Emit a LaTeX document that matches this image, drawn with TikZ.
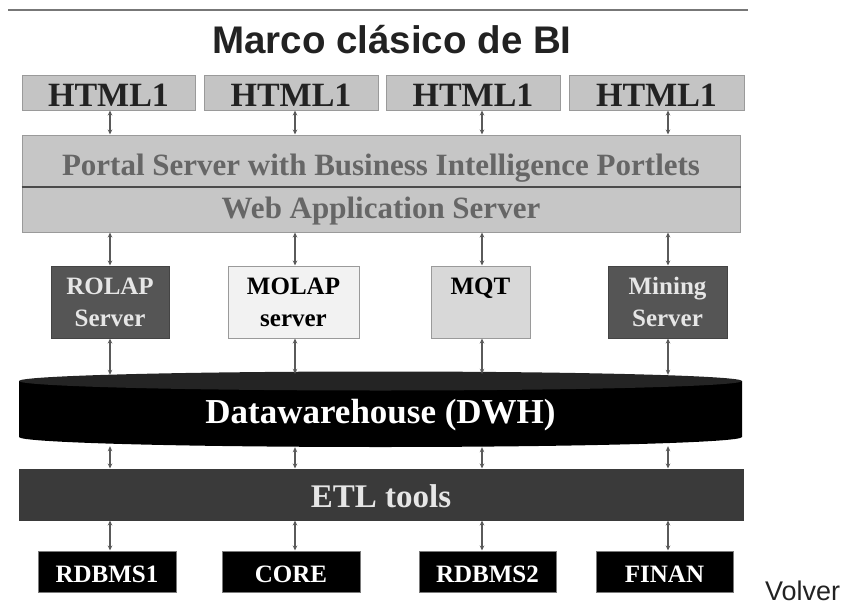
\documentclass[tikz,border=0pt]{standalone}
\usepackage{fontspec}
\setmainfont{Liberation Serif}
\newfontfamily\headfont{Liberation Sans}
\usetikzlibrary{arrows.meta,calc}

\definecolor{htmlfill}{HTML}{C4C4C4}
\definecolor{boxline}{HTML}{9A9A9A}
\definecolor{htmltext}{HTML}{222222}
\definecolor{portalfill}{HTML}{C6C6C6}
\definecolor{portaltext}{HTML}{666666}
\definecolor{divider}{HTML}{4A4A4A}
\definecolor{darkfill}{HTML}{555555}
\definecolor{lighttext}{HTML}{E6E6E6}
\definecolor{molapfill}{HTML}{F2F2F2}
\definecolor{mqtfill}{HTML}{D8D8D8}
\definecolor{dwhtop}{HTML}{242424}
\definecolor{etlfill}{HTML}{3A3A3A}
\definecolor{srcline}{HTML}{7A7A7A}
\definecolor{arrowgray}{HTML}{5A5A5A}
\definecolor{rulegray}{HTML}{777777}

\tikzset{
  htmlbox/.style={draw=boxline, fill=htmlfill, line width=1pt, inner sep=0pt,
    minimum height=35pt, text=htmltext, text height=27pt, text depth=0pt,
    font=\fontsize{34}{34}\selectfont\bfseries},
  layerbox/.style={draw=boxline, fill=portalfill, line width=1pt, inner sep=0pt,
    minimum width=718pt, text=portaltext, text depth=0pt,
    font=\fontsize{31}{31}\selectfont\bfseries},
  srvbox/.style={line width=1pt, inner sep=0pt, minimum height=72pt, align=center,
    font=\fontsize{25}{32}\selectfont\bfseries},
  darksrv/.style={srvbox, draw=darkfill!80!black, fill=darkfill, text=lighttext},
  srcbox/.style={draw=srcline, fill=black, line width=1pt, inner sep=0pt,
    minimum height=41pt, text=white, text height=21pt, text depth=0pt,
    font=\fontsize{25}{25}\selectfont\bfseries},
  biarrow/.style={{Stealth[length=5pt,width=4.5pt]}-{Stealth[length=5pt,width=4.5pt]},
    draw=arrowgray, line width=1.2pt},
}

\begin{document}
\begin{tikzpicture}[x=1pt,y=-1pt]
\useasboundingbox (0,0) rectangle (849,605);

% heading rule and title
\coordinate (ruleL) at (8,10);
\coordinate (ruleR) at (748,10);
\draw[rulegray, line width=1.5pt] (ruleL) -- (ruleR);
\node[anchor=base, inner sep=0pt, text=htmltext,
      font=\headfont\fontsize{38.5}{38.5}\selectfont\bfseries]
  (title) at (392,53) {Marco clásico de BI};

% connector columns
\coordinate (c1) at (110,0);
\coordinate (c2) at (295,0);
\coordinate (c3) at (482,0);
\coordinate (c4) at (668,0);

% presentation layer
\node[htmlbox, minimum width=173pt] (h1) at (108.5,92.5) {HTML1};
\node[htmlbox, minimum width=174pt] (h2) at (291,92.5) {HTML1};
\node[htmlbox, minimum width=174pt] (h3) at (473,92.5) {HTML1};
\node[htmlbox, minimum width=175pt] (h4) at (656.5,92.5) {HTML1};

\node[layerbox, minimum height=51pt, text height=29pt] (portal) at (381,160.5)
  {Portal Server with Business Intelligence Portlets};
\node[layerbox, minimum height=46pt, text height=18pt] (was) at (381,209)
  {Web Application Server};
\draw[divider, line width=2pt] (portal.south west) -- (portal.south east);

% analysis servers
\node[darksrv, minimum width=118pt] (rolap) at (110,302) {ROLAP\\Server};
\node[srvbox, draw=boxline, fill=molapfill, text=black, minimum width=131pt]
  (molap) at (293.5,302) {MOLAP\\server};
\node[srvbox, draw=boxline, fill=mqtfill, text=black, minimum width=99pt]
  (mqt) at (480.5,302) {MQT\\\mbox{}};
\node[darksrv, minimum width=119pt] (mining) at (667.5,302) {Mining\\Server};

% data warehouse cylinder
\fill[black] (19,381) -- (19,437)
  arc[start angle=180, end angle=0, x radius=361.5, y radius=10]
  -- (742,381) -- cycle;
\fill[dwhtop] (380.5,381) ellipse[x radius=361.5, y radius=9.5];
\node[inner sep=0pt, minimum width=723pt, minimum height=75pt, text=white,
      text height=25pt, text depth=0pt,
      font=\fontsize{35}{35}\selectfont\bfseries]
  (dwh) at (380.5,410.5) {Datawarehouse (DWH)};

% ETL layer
\node[draw=etlfill, fill=etlfill, line width=1pt, inner sep=0pt,
      minimum width=724pt, minimum height=51pt, text=lighttext,
      text height=25pt, text depth=0pt,
      font=\fontsize{33}{33}\selectfont\bfseries]
  (etl) at (381,494.5) {ETL tools};

% sources
\node[srcbox, minimum width=138pt] (s1) at (107,571.5) {RDBMS1};
\node[srcbox, minimum width=138pt] (s2) at (291,571.5) {CORE};
\node[srcbox, minimum width=137pt] (s3) at (487.5,571.5) {RDBMS2};
\node[srcbox, minimum width=137pt] (s4) at (664.5,571.5) {FINAN};

\node[anchor=base west, inner sep=0pt, text=htmltext,
      font=\headfont\fontsize{27}{27}\selectfont]
  (volver) at (765,600) {Volver};

% connectors
\draw[biarrow] (h1.south -| c1) -- (portal.north -| c1);
\draw[biarrow] (h2.south -| c2) -- (portal.north -| c2);
\draw[biarrow] (h3.south -| c3) -- (portal.north -| c3);
\draw[biarrow] (h4.south -| c4) -- (portal.north -| c4);

\draw[biarrow] (was.south -| c1) -- (rolap.north -| c1);
\draw[biarrow] (was.south -| c2) -- (molap.north -| c2);
\draw[biarrow] (was.south -| c3) -- (mqt.north -| c3);
\draw[biarrow] (was.south -| c4) -- (mining.north -| c4);

\draw[biarrow] (rolap.south -| c1) -- ($(dwh.north -| c1)+(0,2)$);
\draw[biarrow] (molap.south -| c2) -- ($(dwh.north -| c2)+(0,1)$);
\draw[biarrow] (mqt.south -| c3) -- ($(dwh.north -| c3)+(0,1)$);
\draw[biarrow] (mining.south -| c4) -- ($(dwh.north -| c4)+(0,2)$);

\draw[biarrow] ($(dwh.south -| c1)+(0,-2)$) -- (etl.north -| c1);
\draw[biarrow] ($(dwh.south -| c2)+(0,-1)$) -- (etl.north -| c2);
\draw[biarrow] ($(dwh.south -| c3)+(0,-1)$) -- (etl.north -| c3);
\draw[biarrow] ($(dwh.south -| c4)+(0,-2)$) -- (etl.north -| c4);

\draw[biarrow] (etl.south -| c1) -- (s1.north -| c1);
\draw[biarrow] (etl.south -| c2) -- (s2.north -| c2);
\draw[biarrow] (etl.south -| c3) -- (s3.north -| c3);
\draw[biarrow] (etl.south -| c4) -- (s4.north -| c4);
\end{tikzpicture}
\end{document}
